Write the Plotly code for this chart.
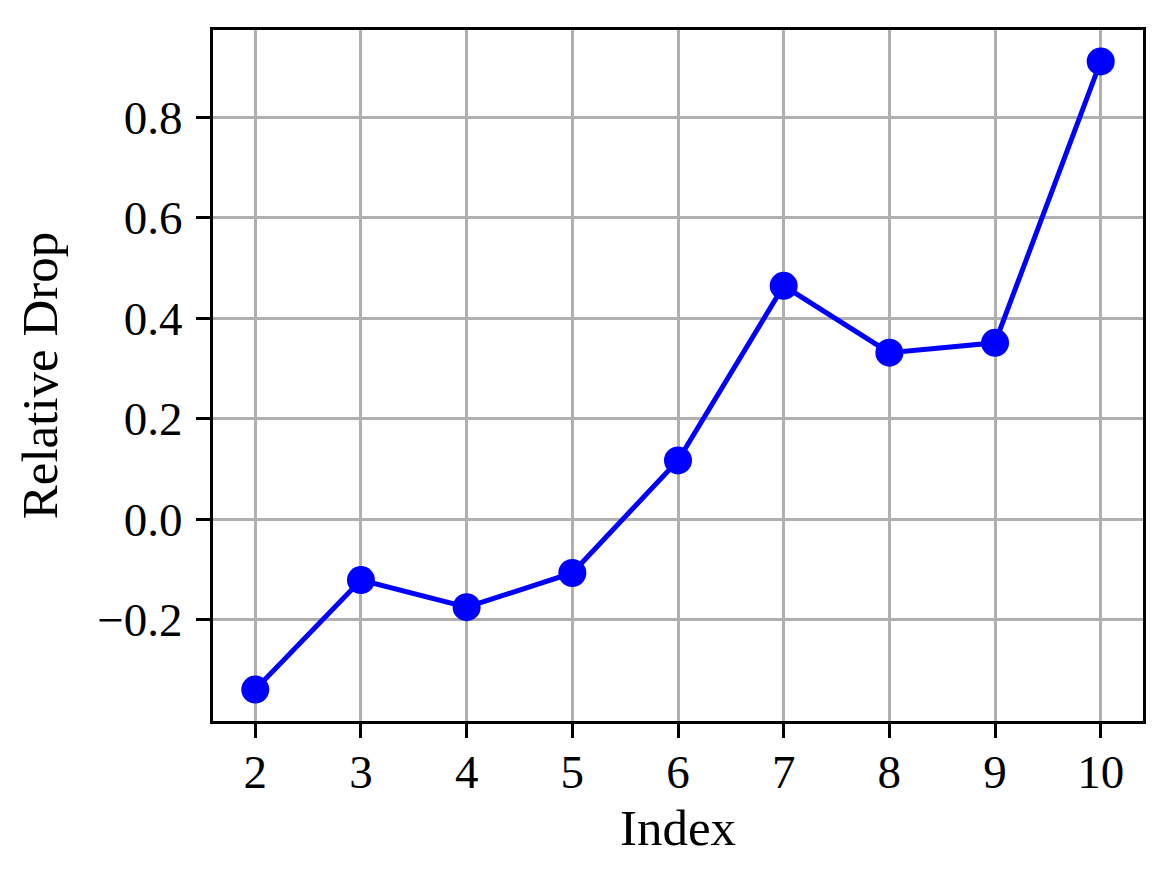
import plotly.graph_objects as go

index = [2, 3, 4, 5, 6, 7, 8, 9, 10]
relative_drop = [-0.339, -0.121, -0.175, -0.107, 0.117, 0.4645, 0.3315, 0.351, 0.911]

y_tickvals = [-0.2, 0.0, 0.2, 0.4, 0.6, 0.8]
y_ticktext = ["\u22120.2", "0.0", "0.2", "0.4", "0.6", "0.8"]
x_tickvals = [2, 3, 4, 5, 6, 7, 8, 9, 10]

font_family = "Liberation Serif, DejaVu Serif, serif"

fig = go.Figure()
fig.add_trace(go.Scatter(
    x=index, y=relative_drop, mode="lines+markers",
    line=dict(color="#0000ff", width=5),
    marker=dict(color="#0000ff", size=28),
    showlegend=False,
))

axis_common = dict(
    showline=True, linecolor="black", linewidth=3, mirror=True,
    ticks="outside", ticklen=14, tickwidth=3, tickcolor="black",
    showgrid=True, gridcolor="#b0b0b0", gridwidth=2.5,
    zeroline=False,
    tickfont=dict(family=font_family, size=47, color="black"),
)

fig.update_xaxes(
    range=[1.6, 10.4], tickvals=x_tickvals,
    ticklabelstandoff=-6,
    title=dict(text="Index", font=dict(family=font_family, size=51, color="black"), standoff=12),
    **axis_common,
)
fig.update_yaxes(
    range=[-0.4015, 0.9735], tickvals=y_tickvals, ticktext=y_ticktext,
    ticklabelstandoff=4,
    title=dict(text="Relative Drop", font=dict(family=font_family, size=51, color="black"), standoff=24),
    **axis_common,
)

fig.update_layout(
    width=1164, height=876,
    margin=dict(l=205, r=29, t=22, b=163),
    plot_bgcolor="white", paper_bgcolor="white",
)

fig.write_html("out.html")
